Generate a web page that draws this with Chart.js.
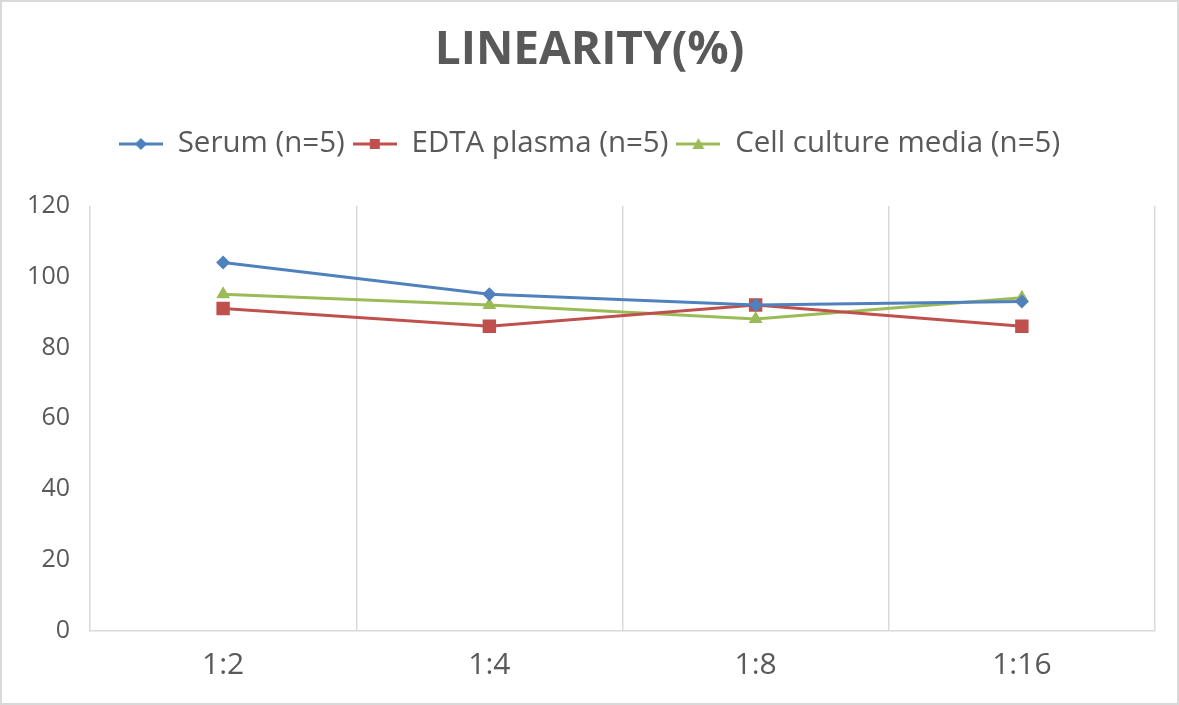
<!DOCTYPE html>
<html>
<head>
<meta charset="utf-8">
<script src="https://cdn.jsdelivr.net/npm/chart.js@4/dist/chart.umd.min.js"></script>
<style>
html,body{margin:0;padding:0;background:#fff;}
#wrap{position:relative;width:1179px;height:705px;}
canvas{display:block;}
</style>
</head>
<body>
<div id="wrap"><canvas id="c"></canvas></div>
<script>
const categories = ['1:2', '1:4', '1:8', '1:16'];
const serumValues = [104, 95, 92, 93];
const edtaValues = [91, 86, 92, 86];
const cellValues = [95, 92, 88, 94];
const seriesNames = ['Serum (n=5)', 'EDTA plasma (n=5)', 'Cell culture media (n=5)'];
const yTicks = [0, 20, 40, 60, 80, 100, 120];

const FONT = "'Open Sans', 'Noto Sans', sans-serif";
const GRAY = '#595959';
const colors = ['#4F81BD', '#C0504D', '#9BBB59'];
const styles = ['rectRot', 'rect', 'triangle'];
const radii = [7, 9.5, 8];

function legendIcon(color, style) {
  const c = document.createElement('canvas');
  c.width = 44; c.height = 16;
  const g = c.getContext('2d');
  g.strokeStyle = color; g.lineWidth = 3;
  g.beginPath(); g.moveTo(0, 8); g.lineTo(44, 8); g.stroke();
  g.fillStyle = color;
  g.beginPath();
  if (style === 'rectRot') { g.moveTo(22, 2); g.lineTo(28, 8); g.lineTo(22, 14); g.lineTo(16, 8); }
  else if (style === 'rect') { g.rect(17, 3, 10, 10); }
  else { g.moveTo(22, 2); g.lineTo(28, 13); g.lineTo(16, 13); }
  g.closePath(); g.fill();
  return c;
}

const allValues = [serumValues, edtaValues, cellValues];
const datasets = allValues.map((vals, i) => ({
  label: seriesNames[i],
  data: vals,
  borderColor: colors[i],
  backgroundColor: colors[i],
  borderWidth: 3,
  pointStyle: styles[i],
  pointRadius: radii[i],
  pointBorderWidth: 0,
  tension: 0,
  fill: false,
  yAxisID: 'y'
}));

const icons = colors.map((c, i) => legendIcon(c, styles[i]));

const borderPlugin = {
  id: 'outerBorder',
  beforeDraw(chart) {
    const g = chart.ctx;
    g.save();
    g.fillStyle = '#fff';
    g.fillRect(0, 0, chart.width, chart.height);
    g.strokeStyle = '#d9d9d9';
    g.lineWidth = 2;
    g.strokeRect(1, 1, chart.width - 2, chart.height - 2);
    g.restore();
  }
};

new Chart(document.getElementById('c'), {
  type: 'line',
  data: { labels: categories, datasets },
  plugins: [borderPlugin],
  options: {
    responsive: true,
    maintainAspectRatio: false,
    animation: false,
    layout: { padding: { left: 0, right: 0, top: 0, bottom: 0 } },
    plugins: {
      title: {
        display: true,
        text: 'LINEARITY(%)',
        color: GRAY,
        font: { family: FONT, size: 46, weight: 'bold', lineHeight: 1.2 },
        padding: { top: 23, bottom: 43 }
      },
      subtitle: {
        display: true,
        text: '',
        weight: 500,
        font: { size: 10, lineHeight: 1 },
        padding: { top: 0, bottom: 27 }
      },
      legend: {
        display: true,
        position: 'top',
        labels: {
          color: GRAY,
          font: { family: FONT, size: 29.5 },
          usePointStyle: true,
          pointStyleWidth: 44,
          boxHeight: 16,
          padding: 8,
          generateLabels: (chart) => chart.data.datasets.map((d, i) => ({
            text: d.label,
            fillStyle: d.borderColor,
            strokeStyle: d.borderColor,
            fontColor: GRAY,
            pointStyle: icons[i],
            datasetIndex: i,
            hidden: false,
            lineWidth: 0
          }))
        }
      },
      tooltip: { enabled: false }
    },
    scales: {
      x: {
        offset: true,
        afterFit: (s) => { s.height = 74; },
        grid: { display: true, offset: true, color: '#d9d9d9', lineWidth: 1.5, drawTicks: false },
        border: { display: true, color: '#d9d9d9', width: 1.5 },
        ticks: { color: GRAY, font: { family: FONT, size: 30, lineHeight: 1.2 }, padding: 16 }
      },
      y: {
        min: 0, max: 120,
        afterBuildTicks: (s) => { s.ticks = yTicks.map(v => ({ value: v })); },
        afterFit: (s) => { s.width = 90; },
        grid: { display: false, drawTicks: false },
        border: { display: false },
        ticks: { color: GRAY, font: { family: FONT, size: 25 }, padding: 20 }
      },
      yRight: {
        position: 'right',
        display: true,
        min: 0, max: 120,
        afterFit: (s) => { s.width = 24; },
        grid: { display: false, drawTicks: false },
        border: { display: false },
        ticks: { display: false }
      }
    }
  }
});
</script>
</body>
</html>
